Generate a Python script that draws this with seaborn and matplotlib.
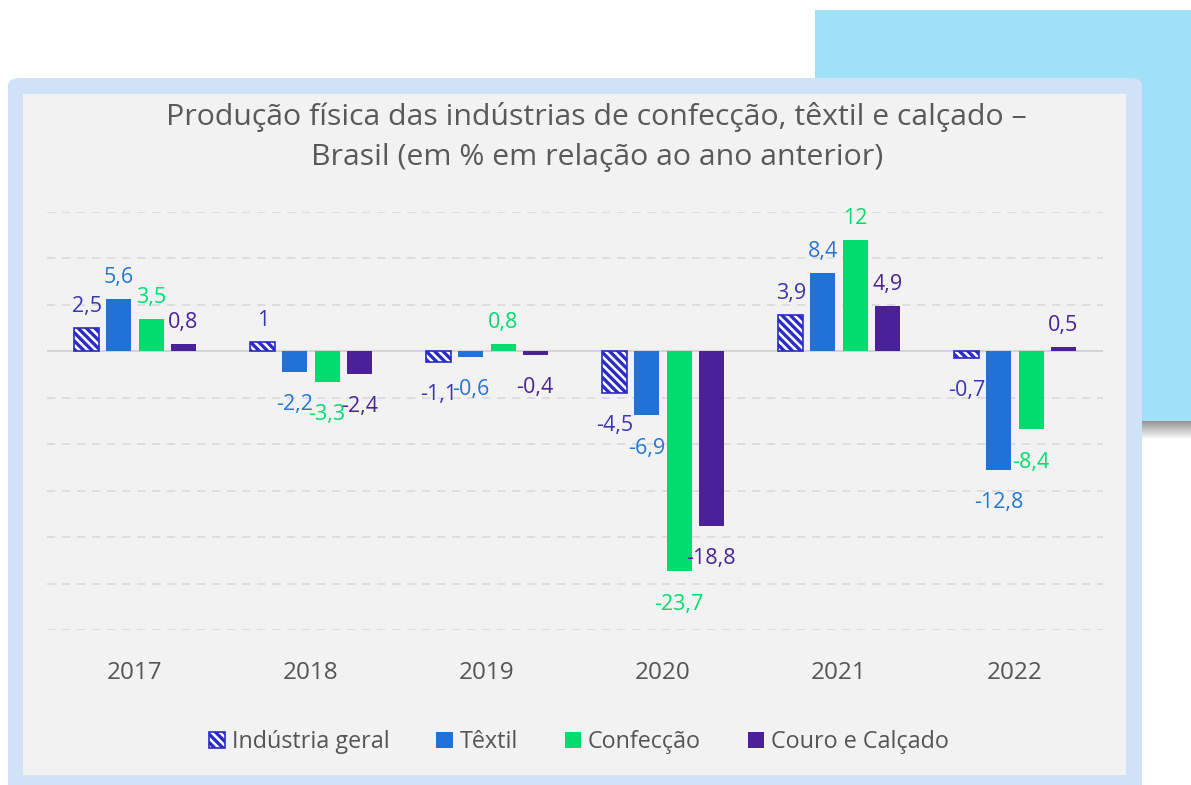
import matplotlib.pyplot as plt
import pandas as pd
import seaborn as sns
from matplotlib.patches import FancyBboxPatch, Patch, Rectangle

# Produção física - variação anual (%)
anos = ['2017', '2018', '2019', '2020', '2021', '2022']
industria_geral = [2.5, 1, -1.1, -4.5, 3.9, -0.7]
textil = [5.6, -2.2, -0.6, -6.9, 8.4, -12.8]
confeccao = [3.5, -3.3, 0.8, -23.7, 12, -8.4]
couro_calcado = [0.8, -2.4, -0.4, -18.8, 4.9, 0.5]

series = ['Indústria geral', 'Têxtil', 'Confecção', 'Couro e Calçado']
cores = ['#2b2bc8', '#1f72d6', '#00dd6e', '#4a2196']
cores_rotulo = ['#3a35b5', '#2476d8', '#00dc6e', '#4b2396']

W, H = 1191, 785


def px(x, y, w, h):
    # pixel box (top-left origin) -> figure fraction
    return x / W, 1 - (y + h) / H, w / W, h / H


sns.set_theme(style='white')
plt.rcParams['font.family'] = ['Open Sans', 'DejaVu Sans']
plt.rcParams['hatch.linewidth'] = 2.4

df = pd.DataFrame({
    'ano': anos * 4,
    'serie': sum([[s] * len(anos) for s in series], []),
    'valor': industria_geral + textil + confeccao + couro_calcado,
})

fig = plt.figure(figsize=(W / 100, H / 100), dpi=100)
fig.patch.set_facecolor('white')

# background decoration
x0, y0, w0, h0 = px(815, 10, 376, 411)
fig.patches.append(Rectangle((x0, y0), w0, h0, transform=fig.transFigure,
                             facecolor='#a1e1f8', edgecolor='none', zorder=0))
for i in range(18):
    x0, y0, w0, h0 = px(815, 421 + i, 376, 1)
    fig.patches.append(Rectangle((x0, y0), w0, h0, transform=fig.transFigure,
                                 facecolor='#8a8a8a', alpha=0.9 * (1 - i / 18),
                                 edgecolor='none', zorder=0))
x0, y0, w0, h0 = px(8, 78, 1134, 730)
fig.patches.append(FancyBboxPatch((x0, y0), w0, h0, transform=fig.transFigure,
                                  boxstyle='round,pad=0,rounding_size=0.01',
                                  facecolor='#d0e2f7', edgecolor='none', zorder=1))
x0, y0, w0, h0 = px(23, 94, 1103, 681)
fig.patches.append(Rectangle((x0, y0), w0, h0, transform=fig.transFigure,
                             facecolor='#f2f2f2', edgecolor='none', zorder=2))

ax = fig.add_axes(px(47, 212, 1056, 418))
ax.set_facecolor('none')
ax.set_zorder(3)

sns.barplot(data=df, x='ano', y='valor', hue='serie', hue_order=series,
            palette=cores, width=0.73, gap=0.22, ax=ax, legend=False,
            saturation=1, errorbar=None)

hatch = '\\\\\\\\'
for i, cont in enumerate(ax.containers):
    for bar, v in zip(cont, [industria_geral, textil, confeccao, couro_calcado][i]):
        if i == 0:
            bar.set_facecolor('white')
            bar.set_edgecolor(cores[0])
            bar.set_hatch(hatch)
            bar.set_linewidth(1.2)
        else:
            bar.set_edgecolor('none')
        cx = bar.get_x() + bar.get_width() / 2
        txt = f'{v:g}'.replace('.', ',')
        if v >= 0:
            ax.annotate(txt, (cx, v), xytext=(0, 8), textcoords='offset points',
                        ha='center', va='bottom', fontsize=15.5, color=cores_rotulo[i])
        else:
            ax.annotate(txt, (cx, v), xytext=(0, -16), textcoords='offset points',
                        ha='center', va='top', fontsize=15.5, color=cores_rotulo[i])

ax.set_ylim(-30, 15)
ax.set_xlim(-0.5, 5.5)
for g in range(-30, 20, 5):
    if g == 0:
        ax.axhline(0, color='#d4d4d4', lw=1.5, zorder=0)
    else:
        ax.axhline(g, color='#d9d9d9', lw=1.2, ls=(0, (5, 4)), zorder=0)
ax.set_yticks([])
ax.set_xlabel('')
ax.set_ylabel('')
ax.tick_params(axis='x', length=0, pad=22, labelsize=17.5, labelcolor='#555555')
sns.despine(ax=ax, left=True, bottom=True)

fig.text(0.501, 1 - 137 / H,
         'Produção física das indústrias de confecção, têxtil e calçado –\n'
         'Brasil (em % em relação ao ano anterior)',
         ha='center', va='center', fontsize=21.8, color='#595959', linespacing=1.5)

handles = [Patch(facecolor='white', edgecolor=cores[0], hatch=hatch, lw=1.2)]
handles += [Patch(facecolor=c, edgecolor='none') for c in cores[1:]]
fig.legend(handles, series, loc='center', bbox_to_anchor=(0.486, 1 - 742 / H),
           ncol=4, frameon=False, fontsize=16.8, labelcolor='#555555',
           handlelength=0.7, handleheight=0.7, handletextpad=0.3, columnspacing=2.0)

fig.savefig('out.png', dpi=100)
